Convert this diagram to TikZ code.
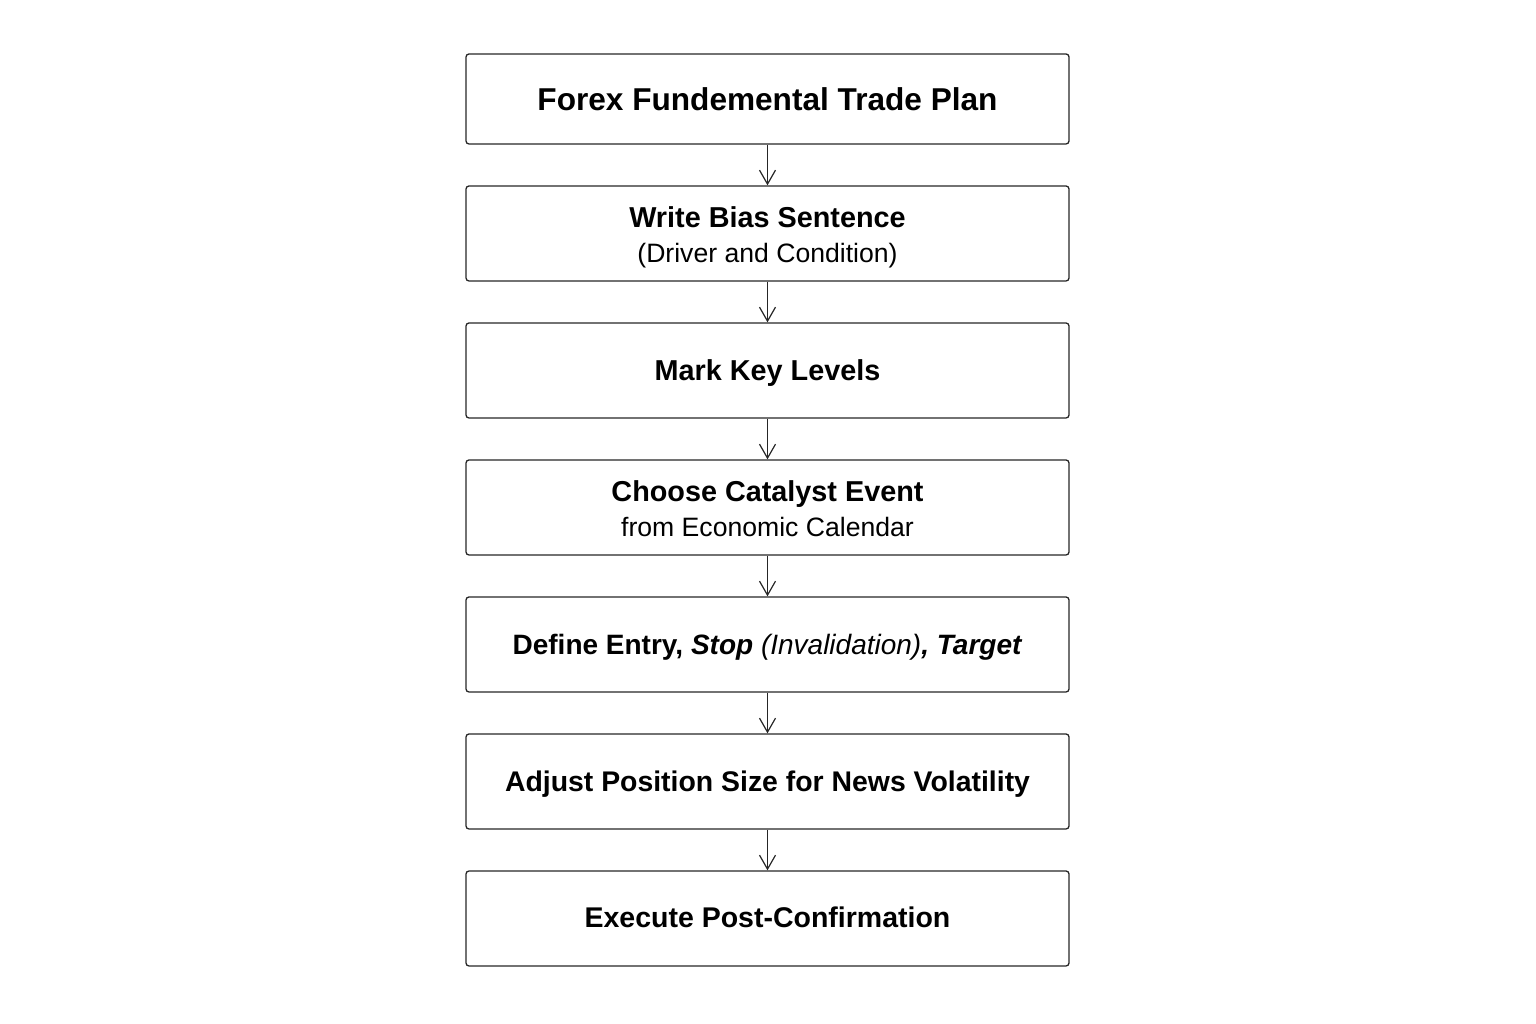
\documentclass[tikz,border=0pt]{standalone}
\usepackage{fontspec}
\setmainfont{Liberation Sans}
\usetikzlibrary{arrows.meta}
\begin{document}
\begin{tikzpicture}[x=1pt,y=1pt,
  stepbox/.style={draw=black!85, line width=1.3pt, rounded corners=3pt, minimum width=603pt, inner sep=0pt},
  bt/.style={anchor=base, inner sep=0pt, font=\fontsize{28.8}{34}\selectfont\bfseries},
  st/.style={anchor=base, inner sep=0pt, font=\fontsize{26.6}{32}\selectfont},
  conn/.style={draw=black!85, line width=1.2pt, -{Straight Barb[length=14pt,width=16pt,line width=1.2pt]}}]
\useasboundingbox (0,0) rectangle (1536,1024);
\node[stepbox, minimum height=90pt] (b1) at (767.5,925) {};
\node[stepbox, minimum height=95pt] (b2) at (767.5,790.5) {};
\node[stepbox, minimum height=95pt] (b3) at (767.5,653.5) {};
\node[stepbox, minimum height=95pt] (b4) at (767.5,516.5) {};
\node[stepbox, minimum height=95pt] (b5) at (767.5,379.5) {};
\node[stepbox, minimum height=95pt] (b6) at (767.5,242.5) {};
\node[stepbox, minimum height=95pt] (b7) at (767.5,105.5) {};
\node[bt, font=\fontsize{31.6}{36}\selectfont\bfseries] (t1) at ([yshift=-11.3pt]b1.center) {Forex Fundemental Trade Plan};
\node[bt] (t2) at ([yshift=5.5pt]b2.center) {Write Bias Sentence};
\node[st] (s2) at ([yshift=-29.5pt]b2.center) {(Driver and Condition)};
\node[bt] (t3) at ([yshift=-10.5pt]b3.center) {Mark Key Levels};
\node[bt] (t4) at ([yshift=5.5pt]b4.center) {Choose Catalyst Event};
\node[st] (s4) at ([yshift=-29pt]b4.center) {from Economic Calendar};
\node[bt, font=\fontsize{28}{34}\selectfont\bfseries] (t5) at ([yshift=-10pt]b5.center) {Define Entry, \textit{Stop} {\mdseries\itshape (Invalidation)}\textit{, Target}};
\node[bt, font=\fontsize{28.4}{34}\selectfont\bfseries] (t6) at ([yshift=-10pt]b6.center) {Adjust Position Size for News Volatility};
\node[bt, font=\fontsize{28.5}{34}\selectfont\bfseries] (t7) at ([yshift=-9.5pt]b7.center) {Execute Post-Confirmation};
\draw[conn] (b1.south) -- (b2.north);
\draw[conn] (b2.south) -- (b3.north);
\draw[conn] (b3.south) -- (b4.north);
\draw[conn] (b4.south) -- (b5.north);
\draw[conn] (b5.south) -- (b6.north);
\draw[conn] (b6.south) -- (b7.north);
\end{tikzpicture}
\end{document}
